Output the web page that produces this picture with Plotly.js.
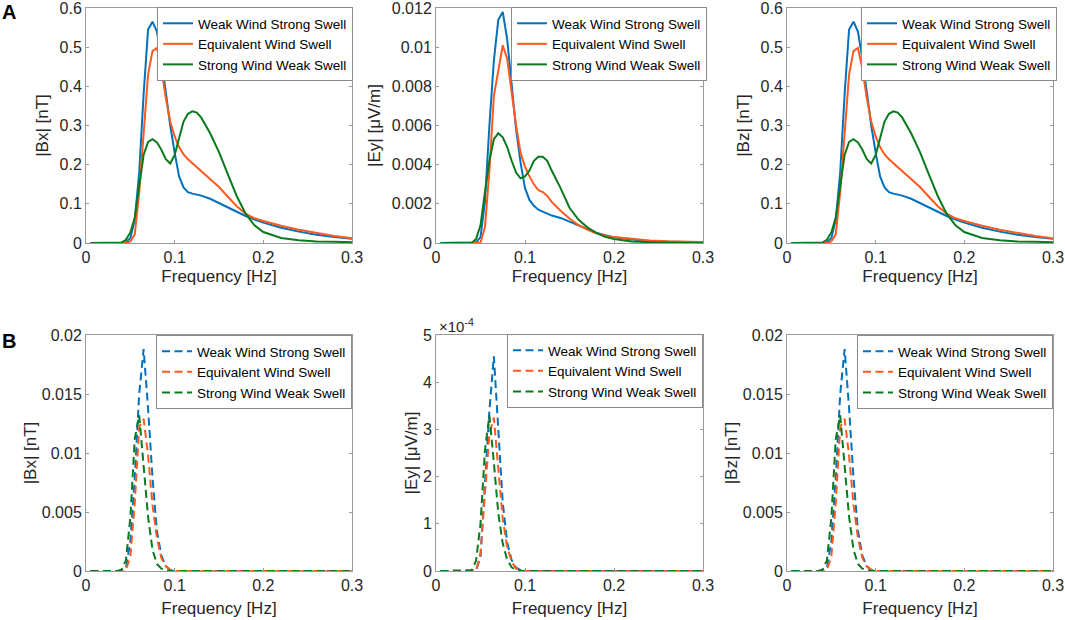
<!DOCTYPE html>
<html>
<head>
<meta charset="utf-8">
<script src="https://cdn.plot.ly/plotly-3.0.1.min.js"></script>
<style>html,body{margin:0;padding:0;background:#fff;}#chart{width:1065px;height:620px;}</style>
</head>
<body>
<div id="chart"></div>
<script>
// ---------- data ----------
const freq = [0.005,0.02,0.035,0.04,0.045,0.05,0.055,0.06,0.065,0.07,0.075,0.08,0.085,0.09,0.095,0.1,0.105,0.11,0.115,0.12,0.125,0.13,0.14,0.15,0.16,0.17,0.18,0.19,0.2,0.22,0.24,0.26,0.28,0.3];

const seriesNames = ["Weak Wind Strong Swell","Equivalent Wind Swell","Strong Wind Weak Swell"];

// Row A : |Bx|, |Ey|, |Bz|
const bxWeakWind = [0,0,0,0,0.002,0.012,0.06,0.18,0.38,0.545,0.565,0.54,0.47,0.38,0.30,0.23,0.17,0.142,0.13,0.126,0.124,0.121,0.113,0.102,0.09,0.079,0.069,0.06,0.052,0.039,0.029,0.021,0.015,0.011];
const bxEquivalent = [0,0,0,0,0,0.004,0.022,0.13,0.29,0.43,0.49,0.498,0.445,0.37,0.31,0.272,0.245,0.226,0.214,0.204,0.195,0.185,0.165,0.143,0.118,0.094,0.075,0.063,0.056,0.044,0.034,0.026,0.018,0.012];
const bxStrongWind = [0,0,0,0.001,0.008,0.027,0.065,0.15,0.225,0.258,0.265,0.257,0.238,0.214,0.203,0.225,0.27,0.31,0.33,0.336,0.333,0.32,0.28,0.232,0.175,0.12,0.075,0.045,0.028,0.013,0.007,0.004,0.003,0.002];

const eyWeakWind = [0,0,0,0,0.00003,0.0003,0.0021,0.006,0.0093,0.0114,0.0118,0.0104,0.0081,0.0058,0.0041,0.0028,0.0022,0.0019,0.0017,0.0016,0.0015,0.0014,0.00128,0.0011,0.00088,0.0007,0.00052,0.0004,0.0003,0.00018,0.0001,0.00007,0.00005,0.00004];
const eyEquivalent = [0,0,0,0,0,0.00003,0.0008,0.0037,0.0075,0.0089,0.0101,0.0094,0.0076,0.006,0.0046,0.0039,0.0034,0.003,0.0027,0.0026,0.0024,0.0021,0.00165,0.00125,0.00092,0.00068,0.0005,0.00038,0.0003,0.0002,0.00013,0.00009,0.00006,0.00005];
const eyStrongWind = [0,0,0,0,0.0002,0.0009,0.0026,0.0042,0.0053,0.0056,0.0054,0.0049,0.0042,0.0036,0.0033,0.0034,0.0037,0.0042,0.0044,0.0044,0.0042,0.0037,0.0028,0.0018,0.0012,0.0008,0.00052,0.00032,0.0002,0.00008,0.00004,0.00002,0.00001,0];

const bzWeakWind = [0,0,0,0,0.002,0.012,0.06,0.18,0.38,0.545,0.565,0.54,0.47,0.38,0.30,0.23,0.17,0.142,0.13,0.126,0.124,0.121,0.113,0.102,0.09,0.079,0.069,0.06,0.052,0.039,0.029,0.021,0.015,0.011];
const bzEquivalent = [0,0,0,0,0,0.004,0.022,0.13,0.29,0.43,0.49,0.498,0.445,0.37,0.31,0.272,0.245,0.226,0.214,0.204,0.195,0.185,0.165,0.143,0.118,0.094,0.075,0.063,0.056,0.044,0.034,0.026,0.018,0.012];
const bzStrongWind = [0,0,0,0.001,0.008,0.027,0.065,0.15,0.225,0.258,0.265,0.257,0.238,0.214,0.203,0.225,0.27,0.31,0.33,0.336,0.333,0.32,0.28,0.232,0.175,0.12,0.075,0.045,0.028,0.013,0.007,0.004,0.003,0.002];

// Row B : |Bx|, |Ey|, |Bz|
const bxBWeakWind = [0,0,0,0,0.0002,0.0025,0.0079,0.015,0.0188,0.0138,0.0079,0.0034,0.0013,0.0004,0.0001,0,0,0,0,0,0,0,0,0,0,0,0,0,0,0,0,0,0,0];
const bxBEquivalent = [0,0,0,0,0.0001,0.0012,0.0058,0.0122,0.0129,0.0098,0.0056,0.0028,0.0011,0.0004,0.0001,0,0,0,0,0,0,0,0,0,0,0,0,0,0,0,0,0,0,0];
const bxBStrongWind = [0,0,0,0.0001,0.0009,0.0045,0.0112,0.0132,0.0092,0.0046,0.0018,0.0006,0.0002,0.0001,0,0,0,0,0,0,0,0,0,0,0,0,0,0,0,0,0,0,0,0];

const eyBWeakWind = [0,0,0,0,0.01e-4,0.3e-4,1.8e-4,3.4e-4,4.55e-4,2.9e-4,1.45e-4,0.6e-4,0.23e-4,0.07e-4,0.02e-4,0,0,0,0,0,0,0,0,0,0,0,0,0,0,0,0,0,0,0];
const eyBEquivalent = [0,0,0,0,0.01e-4,0.38e-4,1.6e-4,2.9e-4,3.25e-4,2.25e-4,1.1e-4,0.5e-4,0.2e-4,0.05e-4,0.01e-4,0,0,0,0,0,0,0,0,0,0,0,0,0,0,0,0,0,0,0];
const eyBStrongWind = [0,0,0,0.01e-4,0.22e-4,1.0e-4,2.56e-4,3.3e-4,2.3e-4,1.22e-4,0.58e-4,0.24e-4,0.08e-4,0.02e-4,0,0,0,0,0,0,0,0,0,0,0,0,0,0,0,0,0,0,0,0];

const bzBWeakWind = [0,0,0,0,0.0002,0.0025,0.0079,0.015,0.0188,0.0138,0.0079,0.0034,0.0013,0.0004,0.0001,0,0,0,0,0,0,0,0,0,0,0,0,0,0,0,0,0,0,0];
const bzBEquivalent = [0,0,0,0,0.0001,0.0012,0.0058,0.0122,0.0129,0.0098,0.0056,0.0028,0.0011,0.0004,0.0001,0,0,0,0,0,0,0,0,0,0,0,0,0,0,0,0,0,0,0];
const bzBStrongWind = [0,0,0,0.0001,0.0009,0.0045,0.0112,0.0132,0.0092,0.0046,0.0018,0.0006,0.0002,0.0001,0,0,0,0,0,0,0,0,0,0,0,0,0,0,0,0,0,0,0,0];

// tick labels
const xTickVals = [0,0.1,0.2,0.3];
const xTickText = ["0","0.1","0.2","0.3"];
const yTickValsBA = [0,0.1,0.2,0.3,0.4,0.5,0.6];
const yTickTextBA = ["0","0.1","0.2","0.3","0.4","0.5","0.6"];
const yTickValsEA = [0,0.002,0.004,0.006,0.008,0.01,0.012];
const yTickTextEA = ["0","0.002","0.004","0.006","0.008","0.01","0.012"];
const yTickValsBB = [0,0.005,0.01,0.015,0.02];
const yTickTextBB = ["0","0.005","0.01","0.015","0.02"];
const yTickValsEB = [0,1e-4,2e-4,3e-4,4e-4,5e-4];
const yTickTextEB = ["0","1","2","3","4","5"];

// ---------- styling ----------
const colors = ["#0072BD","#FF5A1E","#0A7A1E"];
const FONT = "Liberation Sans, Arial, Helvetica, sans-serif";
const W = 1065, H = 620;

const panels = [
  {ax:1, ys:[bxWeakWind,bxEquivalent,bxStrongWind], dash:"solid", ytitle:"|Bx| [nT]", tv:yTickValsBA, tt:yTickTextBA, yr:[0,0.6], px:[86,352], py:[8,243], leg:[353,7], xs:4, ysd:6},
  {ax:2, ys:[eyWeakWind,eyEquivalent,eyStrongWind], dash:"solid", ytitle:"|Ey| [μV/m]", tv:yTickValsEA, tt:yTickTextEA, yr:[0,0.012], px:[436,703], py:[8,243], leg:[707,7], xs:4, ysd:6},
  {ax:3, ys:[bzWeakWind,bzEquivalent,bzStrongWind], dash:"solid", ytitle:"|Bz| [nT]", tv:yTickValsBA, tt:yTickTextBA, yr:[0,0.6], px:[787,1053], py:[8,243], leg:[1057,7], xs:4, ysd:6},
  {ax:4, ys:[bxBWeakWind,bxBEquivalent,bxBStrongWind], dash:"8px,4.5px", ytitle:"|Bx| [nT]", tv:yTickValsBB, tt:yTickTextBB, yr:[0,0.02], px:[86,352], py:[335,571], leg:[352,335], xs:8, ysd:0},
  {ax:5, ys:[eyBWeakWind,eyBEquivalent,eyBStrongWind], dash:"8px,4.5px", ytitle:"|Ey| [μV/m]", tv:yTickValsEB, tt:yTickTextEB, yr:[0,5e-4], px:[436,703], py:[335,571], leg:[703,334], xs:8, ysd:0},
  {ax:6, ys:[bzBWeakWind,bzBEquivalent,bzBStrongWind], dash:"8px,4.5px", ytitle:"|Bz| [nT]", tv:yTickValsBB, tt:yTickTextBB, yr:[0,0.02], px:[787,1053], py:[335,571], leg:[1053,335], xs:8, ysd:0}
];

const traces = [];
const layout = {
  width: W, height: H,
  margin: {l:0, r:0, t:0, b:0},
  paper_bgcolor: "#fff", plot_bgcolor: "#fff",
  font: {family: FONT, color: "#262626", size: 16},
  annotations: [],
  showlegend: true
};

panels.forEach((p) => {
  const sfx = p.ax === 1 ? "" : String(p.ax);
  const legName = p.ax === 1 ? "legend" : "legend" + p.ax;
  p.ys.forEach((y, si) => {
    traces.push({
      type: "scatter", mode: "lines",
      x: freq, y: y,
      name: seriesNames[si],
      xaxis: "x" + sfx, yaxis: "y" + sfx,
      legend: legName,
      line: {color: colors[si], width: 2, dash: p.dash},
      hoverinfo: "skip"
    });
  });
  const common = {
    showline: true, mirror: "ticks", linecolor: "#9a9a9a", linewidth: 1,
    ticks: "inside", ticklen: 3, tickwidth: 1, tickcolor: "#9a9a9a",
    showgrid: false, zeroline: false, ticklabeloverflow: "allow",
    tickfont: {family: FONT, size: 16, color: "#262626"}
  };
  layout["xaxis" + sfx] = Object.assign({}, common, {
    domain: [p.px[0]/W, p.px[1]/W],
    anchor: "y" + sfx,
    range: [0, 0.3],
    tickmode: "array", tickvals: xTickVals, ticktext: xTickText,
    title: {text: "Frequency [Hz]", font: {family: FONT, size: 17, color: "#262626"}, standoff: p.xs}
  });
  layout["yaxis" + sfx] = Object.assign({}, common, {
    domain: [1 - p.py[1]/H, 1 - p.py[0]/H],
    anchor: "x" + sfx,
    range: p.yr,
    tickmode: "array", tickvals: p.tv, ticktext: p.tt,
    title: {text: p.ytitle, font: {family: FONT, size: 17, color: "#262626"}, standoff: p.ysd}
  });
  layout[legName] = {
    x: p.leg[0]/W, y: 1 - p.leg[1]/H, xanchor: "right", yanchor: "top",
    bgcolor: "#ffffff", bordercolor: "#8a8a8a", borderwidth: 1,
    font: {family: FONT, size: 13.5, color: "#000"},
    itemwidth: 30, tracegroupgap: 0
  };
});

// panel letters
layout.annotations.push({text:"<b>A</b>", x:9/W, y:1-12/H, xref:"paper", yref:"paper", showarrow:false, font:{family:FONT, size:20, color:"#000"}, xanchor:"center", yanchor:"middle"});
layout.annotations.push({text:"<b>B</b>", x:9/W, y:1-341/H, xref:"paper", yref:"paper", showarrow:false, font:{family:FONT, size:20, color:"#000"}, xanchor:"center", yanchor:"middle"});
// exponent label
layout.annotations.push({text:"×10<sup>-4</sup>", x:437/W, y:1-325/H, xref:"paper", yref:"paper", showarrow:false, font:{family:FONT, size:15, color:"#262626"}, xanchor:"left", yanchor:"middle"});

Plotly.newPlot("chart", traces, layout, {displayModeBar: false, staticPlot: true});
</script>
</body>
</html>
